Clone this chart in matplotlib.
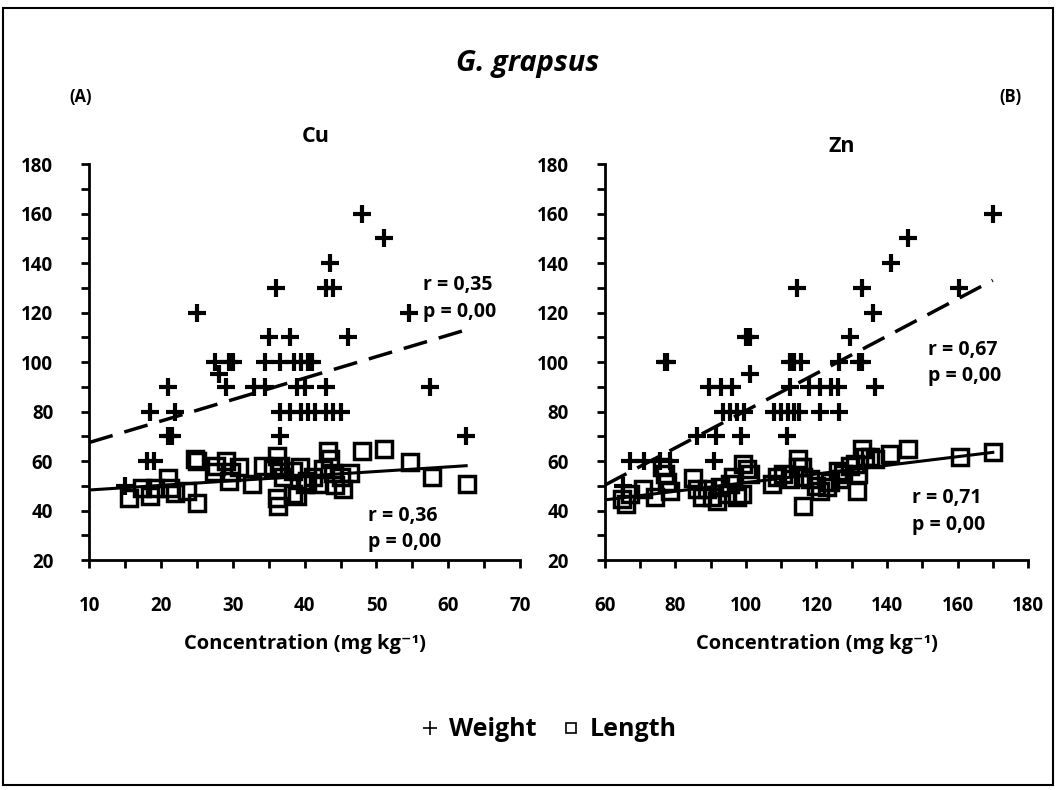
import numpy as np
import matplotlib
matplotlib.use("Agg")
import matplotlib.pyplot as plt
from matplotlib.lines import Line2D
from matplotlib.patches import Rectangle

plt.rcParams['font.family'] = ['Open Sans', 'DejaVu Sans']

# Cu - weight (+), grouped by rows
cu_w_x = [48, 51, 43.5, 36, 43, 44, 25, 54.5, 35, 38, 46,
          27.5, 29.5, 30, 34.5, 36.5, 38.5, 39.5, 40.5, 41, 28,
          21, 29, 33, 34.5, 39, 40, 43, 57.5,
          18.5, 22, 36.5, 38, 39.5, 40.5, 41.5, 43, 44, 45,
          21, 21.5, 36.5, 62.5, 18, 19, 15]
cu_w_y = [160, 150, 140, 130, 130, 130, 120, 120, 110, 110, 110,
          100, 100, 100, 100, 100, 100, 100, 100, 100, 95,
          90, 90, 90, 90, 90, 90, 90, 90,
          80, 80, 80, 80, 80, 80, 80, 80, 80, 80,
          70, 70, 70, 70, 60, 60, 50]
# Cu - length (squares)
cu_l_x = [15.5, 17.3, 18.5, 19.2, 21, 21.2, 22, 23.6, 25, 24.7, 25, 27.3, 27.7,
          29.1, 29.8, 30.8, 29.4, 32.6, 34.2, 35.6, 36.1, 36.6, 37, 38.4, 36.1,
          36.3, 38.4, 39.3, 40.3, 38.9, 40, 41.2, 41.9, 42.6, 43.3, 43.5, 44,
          44.2, 45.1, 45.4, 46.3, 48, 51, 54.7, 57.7, 62.6]
cu_l_y = [45, 49, 46, 49, 53, 49, 47, 48, 43, 61, 60, 55.5, 58,
          60, 55.5, 57.4, 52, 50.7, 58, 56.7, 62, 58, 53.4, 56, 45,
          42, 46.7, 57.4, 52, 46, 50.8, 53.4, 50.7, 56.7, 64, 60.8, 55.2,
          50.4, 53.4, 48.6, 55.2, 64, 65, 59.5, 53.4, 50.7]

# Zn - weight (+)
zn_w_x = [170, 146, 141, 114.5, 133, 160.5, 136, 100, 101, 129.5,
          77, 77.5, 112.5, 113.5, 115.5, 126.5, 132, 133, 101,
          89.5, 93, 96, 112.5, 118, 121, 124, 126, 136.5,
          93.5, 95.5, 97.5, 99.5, 108, 110, 112, 113.5, 115, 121, 126.5,
          86, 91.5, 98.5, 111.5, 67, 71, 75.5, 78.5, 91, 65]
zn_w_y = [160, 150, 140, 130, 130, 130, 120, 110, 110, 110,
          100, 100, 100, 100, 100, 100, 100, 100, 95,
          90, 90, 90, 90, 90, 90, 90, 90, 90,
          80, 80, 80, 80, 80, 80, 80, 80, 80, 80, 80,
          70, 70, 70, 70, 60, 60, 60, 60, 60, 50]
# Zn - length (squares)
zn_l_x = [64.7, 66.1, 67.1, 70.9, 74.2, 76.1, 77, 77.5, 78.4, 85, 86, 87.4,
          88.8, 90.3, 91.7, 92.6, 94.5, 95.5, 96.4, 97.4, 98.8, 99.2, 100.2,
          101.1, 107.3, 108.7, 110.6, 112.5, 114.8, 114.8, 116.3, 115.8, 116.3,
          118.2, 120, 121, 122.9, 123.8, 126.2, 126.7, 127.6, 129.5, 130.9,
          131.9, 131.4, 132.8, 133.8, 135.2, 136.6, 140.9, 146, 160.7, 170.2]
zn_l_y = [44.7, 42.6, 46.7, 48.7, 45.3, 57.4, 54.8, 51.4, 48, 53.3, 48.7, 45.3,
          48.7, 45.3, 44, 49.4, 46.7, 50.7, 53.4, 45.3, 46.7, 58.8, 56.8,
          54.8, 50.7, 53.4, 54.8, 52.7, 60.8, 57.4, 42, 57.4, 53.4,
          52.7, 50, 48, 49.4, 51.4, 56, 52.7, 54.8, 58.1, 58.8,
          54.8, 48, 64.9, 61.5, 61.5, 60.8, 62.9, 64.9, 61.5, 63.6]

# trend lines (x range, y at ends)
cu_w_trend = ([10, 62.5], [67.5, 113])
cu_l_trend = ([10, 62.5], [48.3, 58.1])
zn_w_trend = ([60, 170], [50.3, 133])
zn_l_trend = ([60, 170], [44.3, 63.5])

cu_stats = ["r = 0,35\np = 0,00", "r = 0,36\np = 0,00"]
zn_stats = ["r = 0,67\np = 0,00", "r = 0,71\np = 0,00"]

fig = plt.figure(figsize=(10.56, 7.9), dpi=100)
ax1 = fig.add_axes([0.0846, 0.2911, 0.4078, 0.5013])
ax2 = fig.add_axes([0.5729, 0.2911, 0.4006, 0.5013])


def style(ax, xlim, xmaj, xmin):
    ax.set_xlim(*xlim)
    ax.set_ylim(20, 180)
    ax.set_xticks(np.arange(xlim[0], xlim[1] + 1, xmaj))
    ax.set_xticks(np.arange(xlim[0], xlim[1] + 1, xmin), minor=True)
    ax.set_yticks(np.arange(20, 181, 20))
    ax.set_yticks(np.arange(20, 181, 10), minor=True)
    for s in ['top', 'right']:
        ax.spines[s].set_visible(False)
    for s in ['left', 'bottom']:
        ax.spines[s].set_linewidth(2)
    ax.tick_params(which='both', direction='out', length=6, width=2)
    ax.tick_params(axis='x', which='major', pad=20)
    ax.tick_params(axis='y', which='major', pad=20)
    for lab in ax.get_xticklabels() + ax.get_yticklabels():
        lab.set_fontsize(13.5)
        lab.set_fontweight('bold')
    ax.set_xlabel('Concentration (mg kg⁻¹)', fontsize=14.5, fontweight='bold', labelpad=13)


def draw(ax, wx, wy, lx, ly, wt, lt):
    ax.plot(wx, wy, ls='none', marker='+', ms=13, mew=3, color='black', clip_on=False)
    ax.plot(lx, ly, ls='none', marker='s', ms=11, mew=2.5, mfc='none', mec='black', clip_on=False)
    ax.plot(wt[0], wt[1], color='black', lw=2.5, ls=(0, (7, 3.5)))
    ax.plot(lt[0], lt[1], color='black', lw=2.2)


draw(ax1, cu_w_x, cu_w_y, cu_l_x, cu_l_y, cu_w_trend, cu_l_trend)
draw(ax2, zn_w_x, zn_w_y, zn_l_x, zn_l_y, zn_w_trend, zn_l_trend)
style(ax1, (10, 70), 10, 5)
style(ax2, (60, 180), 20, 10)

kw = dict(fontsize=14, fontweight='bold', va='top', linespacing=1.45)
ax1.text(56.5, 135, cu_stats[0], **kw)
ax1.text(48.8, 42, cu_stats[1], **kw)
ax2.text(151.6, 109, zn_stats[0], **kw)
ax2.text(147.1, 49, zn_stats[1], **kw)

fig.text(316 / 1056, 1 - 137 / 790, 'Cu', fontsize=15.5, fontweight='bold', ha='center', va='center')
fig.text(842 / 1056, 1 - 147 / 790, 'Zn', fontsize=15.5, fontweight='bold', ha='center', va='center')
fig.text(0.5, 1 - 63 / 790, 'G. grapsus', fontsize=21, fontweight='bold', style='italic',
         ha='center', va='center')
fig.text(81 / 1056, 1 - 97 / 790, '(A)', fontsize=12, fontweight='bold', ha='center', va='center')
fig.text(1010 / 1056, 1 - 97 / 790, '(B)', fontsize=12, fontweight='bold', ha='center', va='center')

handles = [Line2D([], [], ls='none', marker='+', ms=10, mew=1.2, color='black'),
           Line2D([], [], ls='none', marker='s', ms=7, mew=1.2, mfc='none', mec='black')]
fig.legend(handles, ['Weight', 'Length'], loc='center', bbox_to_anchor=(546 / 1056, 1 - 730 / 790),
           ncol=2, frameon=False, prop={'size': 18, 'weight': 'bold'}, handletextpad=0.15,
           columnspacing=0.8, handlelength=1.2)

fig.add_artist(Rectangle((0.003, 0.006), 0.994, 0.984, transform=fig.transFigure,
                         fill=False, lw=1.5, edgecolor='black'))

fig.savefig('out.png', dpi=100)
